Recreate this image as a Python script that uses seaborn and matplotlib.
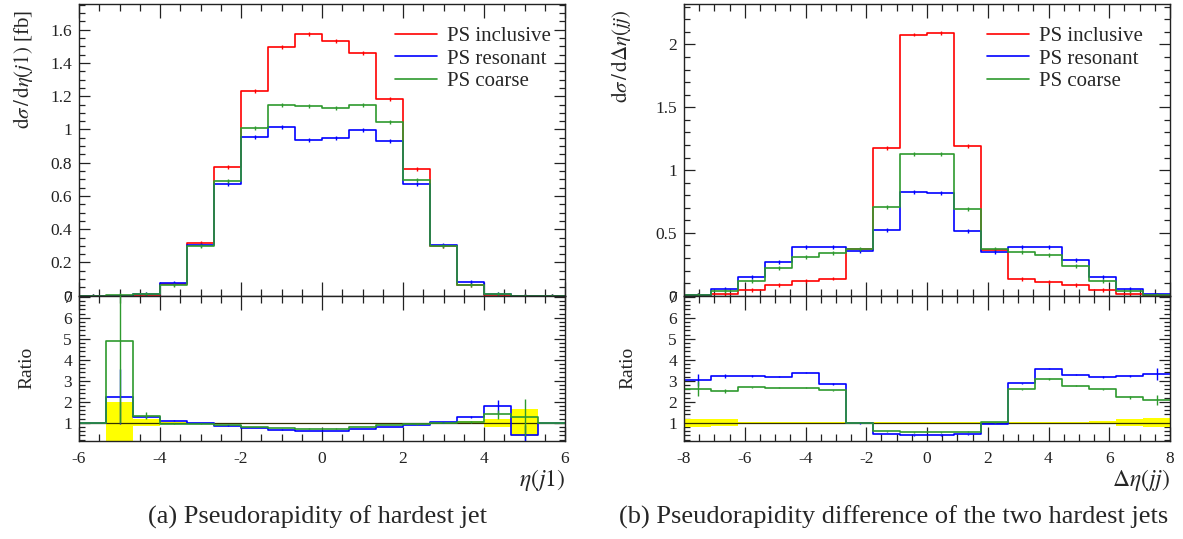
import numpy as np
import pandas as pd
import matplotlib
matplotlib.use("Agg")
import matplotlib.pyplot as plt
from matplotlib.ticker import MultipleLocator, FuncFormatter
import seaborn as sns

# ---------------- data ----------------
series_names = ["PS inclusive", "PS resonant", "PS coarse"]

# (a) eta(j1): 18 bins from -6 to 6
eta_edges = np.linspace(-6, 6, 19)
eta_inclusive = [0, 0.0004, 0.006, 0.071, 0.315, 0.777, 1.231, 1.496, 1.574, 1.534, 1.460, 1.181, 0.761, 0.300, 0.062, 0.006, 0.0006, 0]
eta_resonant = [0, 0.0009, 0.0078, 0.078, 0.307, 0.673, 0.952, 1.014, 0.938, 0.950, 0.996, 0.928, 0.673, 0.307, 0.080, 0.0107, 0.00024, 0]
eta_coarse = [0, 0.002, 0.008, 0.066, 0.300, 0.693, 1.008, 1.149, 1.139, 1.127, 1.146, 1.048, 0.695, 0.299, 0.064, 0.0084, 0.00075, 0]

eta_ratio_resonant = [1, 2.24, 1.29, 1.10, 0.98, 0.86, 0.76, 0.67, 0.60, 0.60, 0.70, 0.81, 0.90, 1.03, 1.29, 1.78, 0.40, 1]
eta_ratio_coarse = [1, 4.90, 1.33, 0.96, 0.96, 0.90, 0.81, 0.76, 0.72, 0.72, 0.81, 0.89, 0.92, 1.00, 1.02, 1.40, 1.25, 1]
eta_ratio_err_resonant = [0, 1.3, 0.05, 0.03, 0.01, 0.01, 0.01, 0.01, 0.01, 0.01, 0.01, 0.01, 0.01, 0.02, 0.05, 0.3, 0.5, 0]
eta_ratio_err_coarse = [0, 3.9, 0.17, 0.03, 0.01, 0.01, 0.01, 0.01, 0.01, 0.01, 0.01, 0.01, 0.01, 0.02, 0.05, 0.2, 0.9, 0]
eta_band = [0, 1.0, 0.17, 0.02, 0.01, 0.01, 0.01, 0.01, 0.01, 0.01, 0.01, 0.01, 0.01, 0.01, 0.08, 0.2, 0.65, 0]

# (b) delta eta(jj): 18 bins from -8 to 8
deta_edges = np.linspace(-8, 8, 19)
deta_inclusive = [0.003, 0.016, 0.045, 0.083, 0.114, 0.136, 0.368, 1.175, 2.079, 2.092, 1.191, 0.367, 0.134, 0.106, 0.086, 0.045, 0.016, 0.003]
deta_resonant = [0.009, 0.053, 0.146, 0.266, 0.385, 0.385, 0.353, 0.524, 0.824, 0.816, 0.518, 0.345, 0.385, 0.385, 0.285, 0.146, 0.053, 0.010]
deta_coarse = [0.008, 0.040, 0.120, 0.221, 0.306, 0.337, 0.372, 0.704, 1.130, 1.130, 0.688, 0.375, 0.345, 0.327, 0.234, 0.114, 0.034, 0.006]

deta_ratio_resonant = [3.03, 3.22, 3.22, 3.19, 3.38, 2.84, 0.97, 0.46, 0.40, 0.40, 0.44, 0.94, 2.87, 3.57, 3.29, 3.19, 3.22, 3.32]
deta_ratio_coarse = [2.63, 2.51, 2.68, 2.67, 2.67, 2.54, 1.00, 0.60, 0.54, 0.54, 0.57, 1.03, 2.60, 3.08, 2.76, 2.59, 2.21, 2.08]
deta_ratio_err_resonant = [0.28, 0.08, 0.04, 0.03, 0.03, 0.03, 0.02, 0.02, 0.02, 0.02, 0.02, 0.02, 0.03, 0.03, 0.03, 0.04, 0.05, 0.3]
deta_ratio_err_coarse = [0.35, 0.08, 0.04, 0.03, 0.03, 0.03, 0.02, 0.02, 0.02, 0.02, 0.02, 0.02, 0.03, 0.03, 0.03, 0.04, 0.07, 0.25]
deta_band = [0.2, 0.16, 0.05, 0.02, 0.02, 0.02, 0.02, 0.02, 0.02, 0.02, 0.02, 0.02, 0.02, 0.02, 0.02, 0.08, 0.16, 0.22]

captions = ["(a) Pseudorapidity of hardest jet",
            "(b) Pseudorapidity difference of the two hardest jets"]

# ---------------- style ----------------
sns.set_theme(style="ticks")
plt.rcParams["font.family"] = ["Liberation Serif", "DejaVu Serif"]
plt.rcParams["mathtext.fontset"] = "stix"

colors = ["#ff0000", "#0000ff", "#2e9a2e"]
LW = 1.2
TICKFS = 12.5

fig = plt.figure(figsize=(11.83, 5.39), dpi=100)

W = 1183.0
H = 539.0
def rect(x0, x1, y0, y1):
    return [x0 / W, 1 - y1 / H, (x1 - x0) / W, (y1 - y0) / H]

panels = [
    dict(x0=79, x1=565, edges=eta_edges, vals=[eta_inclusive, eta_resonant, eta_coarse],
         ratios=[eta_ratio_resonant, eta_ratio_coarse],
         rerrs=[eta_ratio_err_resonant, eta_ratio_err_coarse], band=eta_band,
         ylim=(0, 1.755), ymaj=0.2, ymin=0.05, xlim=(-6, 6), yerr=0.012,
         ylabel=r"$\mathrm{d}\sigma\,/\,\mathrm{d}\eta(j1)$ [fb]", xlabel=r"$\eta(j1)$",
         ylab_x=-0.09, rlab_x=-0.089, leg_x=0.997, cap_x=317),
    dict(x0=684, x1=1170, edges=deta_edges, vals=[deta_inclusive, deta_resonant, deta_coarse],
         ratios=[deta_ratio_resonant, deta_ratio_coarse],
         rerrs=[deta_ratio_err_resonant, deta_ratio_err_coarse], band=deta_band,
         ylim=(0, 2.322), ymaj=0.5, ymin=0.1, xlim=(-8, 8), yerr=0.015,
         ylabel=r"$\mathrm{d}\sigma\,/\,\mathrm{d}\Delta\eta(jj)$", xlabel=r"$\Delta\eta(jj)$",
         ylab_x=-0.105, rlab_x=-0.097, leg_x=0.97, cap_x=894),
]

fmt = FuncFormatter(lambda v, p: "%g" % round(v, 6))

def style_ticks(ax):
    ax.tick_params(which="both", direction="in", top=True, right=True,
                   labelsize=TICKFS, colors="#222222", width=0.9)
    ax.tick_params(axis="x", which="major", length=10, pad=7)
    ax.tick_params(axis="x", which="minor", length=5)
    ax.tick_params(axis="y", which="major", length=8, pad=5)
    ax.tick_params(axis="y", which="minor", length=4)
    for s in ax.spines.values():
        s.set_linewidth(1.0)
        s.set_color("#222222")

def step_line(ax, edges, vals, color, label=None):
    df = pd.DataFrame({"x": np.asarray(edges, float),
                       "y": np.append(np.asarray(vals, float), vals[-1])})
    sns.lineplot(data=df, x="x", y="y", drawstyle="steps-post", estimator=None,
                 sort=False, color=color, linewidth=LW, ax=ax, label=label)

for i, p in enumerate(panels):
    edges = np.asarray(p["edges"])
    centers = 0.5 * (edges[:-1] + edges[1:])
    ax = fig.add_axes(rect(p["x0"], p["x1"], 4, 295.7))
    axr = fig.add_axes(rect(p["x0"], p["x1"], 295.7, 441), sharex=ax)

    # main panel
    for name, vals, c in zip(series_names, p["vals"], colors):
        step_line(ax, edges, vals, c, label=name)
        ax.errorbar(centers, vals, yerr=p["yerr"], fmt="none", ecolor=c, elinewidth=1.0)
    ax.set_xlim(*p["xlim"])
    ax.set_ylim(*p["ylim"])
    ax.yaxis.set_major_locator(MultipleLocator(p["ymaj"]))
    ax.yaxis.set_minor_locator(MultipleLocator(p["ymin"]))
    ax.xaxis.set_major_locator(MultipleLocator(2))
    ax.xaxis.set_minor_locator(MultipleLocator(0.5))
    ax.yaxis.set_major_formatter(fmt)
    style_ticks(ax)
    ax.tick_params(axis="x", labelbottom=False)
    ax.set_xlabel("")
    ax.set_ylabel(p["ylabel"], fontsize=15, loc="top")
    ax.yaxis.set_label_coords(p["ylab_x"], 0.98)
    ax.legend(loc="upper right", bbox_to_anchor=(p["leg_x"], 0.965), frameon=False,
              fontsize=15, handlelength=2.0, handletextpad=0.5,
              labelspacing=0.13, borderaxespad=0.2)

    # ratio panel
    band = np.asarray(p["band"])
    axr.bar(centers, 2 * band, bottom=1 - band, width=np.diff(edges),
            color="#ffff00", edgecolor="none", zorder=1)
    axr.axhline(1, color="#333300", lw=0.9, zorder=2)
    for vals, errs, c in zip(p["ratios"], p["rerrs"], colors[1:]):
        step_line(axr, edges, vals, c)
        axr.errorbar(centers, vals, yerr=errs, fmt="none", ecolor=c, elinewidth=1.0, zorder=3)
    axr.set_xlim(*p["xlim"])
    axr.set_ylim(0.13, 7.05)
    axr.yaxis.set_major_locator(MultipleLocator(1))
    axr.yaxis.set_minor_locator(MultipleLocator(0.2))
    axr.xaxis.set_major_formatter(fmt)
    axr.yaxis.set_major_formatter(fmt)
    style_ticks(axr)
    axr.set_ylabel("Ratio", fontsize=14)
    axr.yaxis.set_label_coords(p["rlab_x"], 0.5)
    axr.set_xlabel(p["xlabel"], fontsize=17, loc="right", labelpad=0)

    fig.text(p["cap_x"] / W, 1 - 517 / H, captions[i],
             ha="center", va="center", fontsize=19)

fig.savefig("out.png", dpi=100)
